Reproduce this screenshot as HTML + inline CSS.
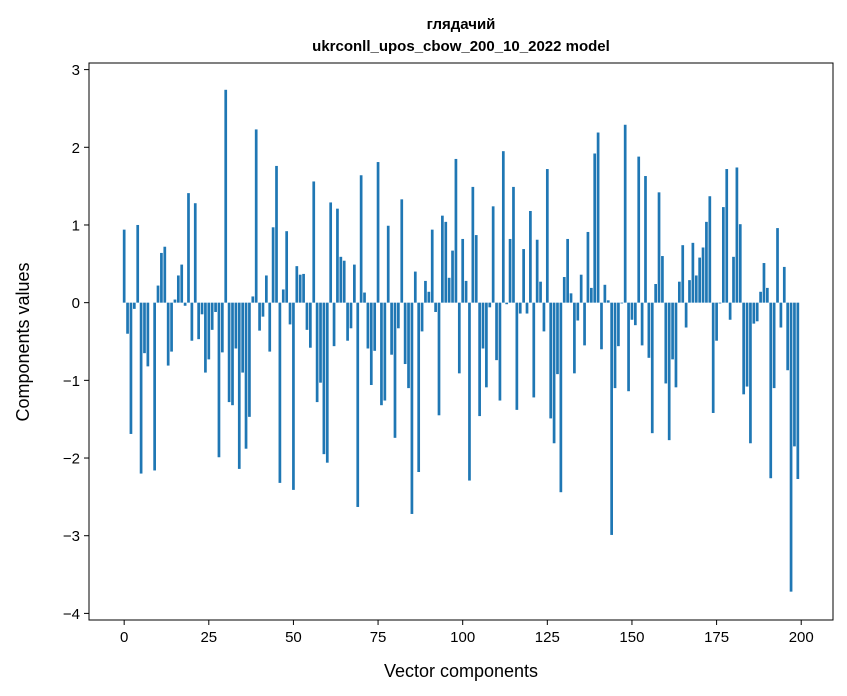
<!DOCTYPE html>
<html><head><meta charset="utf-8"><style>
html,body{margin:0;padding:0;background:#fff;}
svg{display:block;font-family:"Liberation Sans","DejaVu Sans",sans-serif;}
</style></head><body>
<svg id="chart" width="847" height="696" viewBox="0 0 847 696" xmlns="http://www.w3.org/2000/svg">
<rect x="0" y="0" width="847" height="696" fill="#fff"/>
<text x="461" y="29" text-anchor="middle" font-size="15" font-weight="bold">глядачий</text>
<text x="461" y="51" text-anchor="middle" font-size="15" font-weight="bold">ukrconll_upos_cbow_200_10_2022 model</text>
<g id="bars"></g>
<g id="xaxis"></g>
<g id="yaxis"></g>
<rect x="89" y="63" width="744" height="557" fill="none" stroke="#000" stroke-width="1"/>
<text x="461" y="677" text-anchor="middle" font-size="18">Vector components</text>
<text transform="translate(29,342) rotate(-90)" text-anchor="middle" font-size="18">Components values</text>
</svg>
<script>
const values = [0.94,-0.40,-1.69,-0.08,1.0,-2.2,-0.65,-0.82,0.0,-2.16,
0.22,0.64,0.72,-0.81,-0.63,0.04,0.35,0.49,-0.04,1.41,
-0.49,1.28,-0.47,-0.15,-0.9,-0.73,-0.35,-0.12,-1.99,-0.64,
2.74,-1.28,-1.32,-0.59,-2.14,-0.9,-1.88,-1.47,0.08,2.23,
-0.36,-0.18,0.35,-0.63,0.97,1.76,-2.32,0.17,0.92,-0.28,
-2.41,0.47,0.36,0.37,-0.35,-0.58,1.56,-1.28,-1.03,-1.95,
-2.06,1.29,-0.56,1.21,0.59,0.54,-0.49,-0.33,0.49,-2.63,
1.64,0.13,-0.59,-1.06,-0.62,1.81,-1.32,-1.26,0.99,-0.67,
-1.74,-0.33,1.33,-0.79,-1.10,-2.72,0.40,-2.18,-0.37,0.28,
0.14,0.94,-0.12,-1.45,1.12,1.04,0.32,0.67,1.85,-0.91,
0.82,0.28,-2.29,1.49,0.87,-1.46,-0.59,-1.09,-0.06,1.24,
-0.74,-1.26,1.95,-0.02,0.82,1.49,-1.38,-0.14,0.69,-0.14,
1.18,-1.22,0.81,0.27,-0.37,1.72,-1.49,-1.81,-0.92,-2.44,
0.33,0.82,0.12,-0.91,-0.23,0.36,-0.55,0.91,0.19,1.92,
2.19,-0.60,0.23,0.03,-2.99,-1.10,-0.56,-0.01,2.29,-1.14,
-0.22,-0.29,1.88,-0.55,1.63,-0.71,-1.68,0.24,1.42,0.60,
-1.04,-1.77,-0.73,-1.09,0.27,0.74,-0.32,0.29,0.77,0.35,
0.58,0.71,1.04,1.37,-1.42,-0.49,-0.01,1.23,1.72,-0.22,
0.59,1.74,1.01,-1.18,-1.08,-1.81,-0.27,-0.24,0.14,0.51,
0.19,-2.26,-1.10,0.96,-0.32,0.46,-0.87,-3.72,-1.85,-2.27];
const xTicks = [0,25,50,75,100,125,150,175,200];
const yTicks = [3,2,1,0,-1,-2,-3,-4];
const yTickLabels = ["3","2","1","0","\u22121","\u22122","\u22123","\u22124"];

const NS = "http://www.w3.org/2000/svg";
const L = 89, R = 833, T = 63, B = 620;
const xMin = -10.39, xMax = 209.39;
const yMin = -4.085, yMax = 3.085;
function xs(v){ return L + (v - xMin) / (xMax - xMin) * (R - L); }
function ys(v){ return B - (v - yMin) / (yMax - yMin) * (B - T); }

const bars = document.getElementById('bars');
values.forEach((v, i) => {
  const r = document.createElementNS(NS, 'rect');
  const x0 = xs(i - 0.4), x1 = xs(i + 0.4);
  const y0 = ys(Math.max(v, 0)), y1 = ys(Math.min(v, 0));
  r.setAttribute('x', x0);
  r.setAttribute('width', x1 - x0);
  r.setAttribute('y', y0);
  r.setAttribute('height', Math.max(y1 - y0, 0));
  r.setAttribute('fill', '#1f77b4');
  
  
  bars.appendChild(r);
});

const xa = document.getElementById('xaxis');
xTicks.forEach(t => {
  const x = xs(t);
  const ln = document.createElementNS(NS, 'line');
  ln.setAttribute('x1', x); ln.setAttribute('x2', x);
  ln.setAttribute('y1', B); ln.setAttribute('y2', B + 5);
  ln.setAttribute('stroke', '#000');
  
  
  xa.appendChild(ln);
  const tx = document.createElementNS(NS, 'text');
  tx.setAttribute('x', x); tx.setAttribute('y', B + 22);
  tx.setAttribute('text-anchor', 'middle');
  tx.setAttribute('font-size', '15');
  tx.textContent = String(t);
  
  
  xa.appendChild(tx);
});

const ya = document.getElementById('yaxis');
yTicks.forEach((t, k) => {
  const y = ys(t);
  const ln = document.createElementNS(NS, 'line');
  ln.setAttribute('x1', L - 5); ln.setAttribute('x2', L);
  ln.setAttribute('y1', y); ln.setAttribute('y2', y);
  ln.setAttribute('stroke', '#000');
  
  
  ya.appendChild(ln);
  const tx = document.createElementNS(NS, 'text');
  tx.setAttribute('x', L - 9); tx.setAttribute('y', y + 5.5);
  tx.setAttribute('text-anchor', 'end');
  tx.setAttribute('font-size', '15');
  tx.textContent = yTickLabels[k];
  
  
  ya.appendChild(tx);
});
</script>
</body></html>
